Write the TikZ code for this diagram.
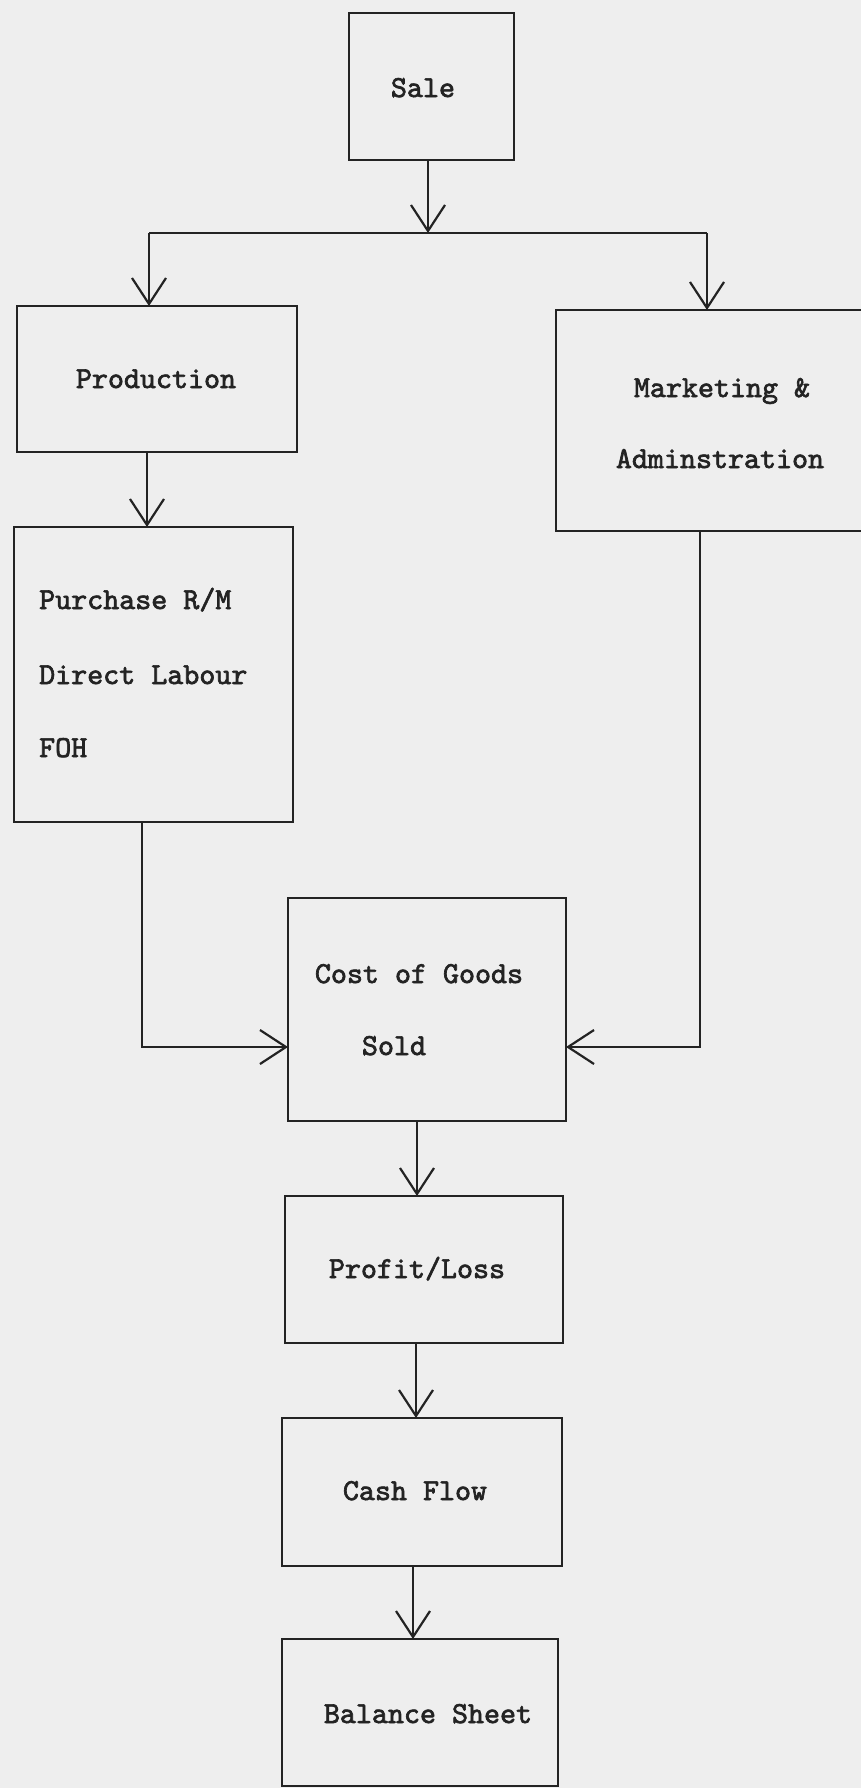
\documentclass[tikz,border=0pt]{standalone}
\usepackage{fontspec}
\newfontfamily\typew{lmmono10-regular.otf}[FakeBold=2.2]
\usetikzlibrary{arrows.meta}
\definecolor{paper}{RGB}{238,238,238}
\definecolor{ink}{RGB}{35,35,35}
\begin{document}
\begin{tikzpicture}[x=1pt,y=-1pt,
  box/.style={draw=ink, line width=2.6pt, rectangle, inner sep=0pt, outer sep=0pt},
  lbl/.style={text=ink, font=\fontsize{30.5}{34}\selectfont\typew, anchor=base, inner sep=0pt},
  lbll/.style={lbl, anchor=base west},
  ln/.style={draw=ink, line width=2.6pt},
  arr/.style={ln, -{Straight Barb[length=26pt,width=34pt,line width=2.2pt]}}]
\fill[paper] (0,0) rectangle (861,1788);
\useasboundingbox (0,0) rectangle (861,1788);
% boxes
\node[box, minimum width=165pt, minimum height=147pt] (sale) at (431.5,86.5) {};
\node[box, minimum width=280pt, minimum height=146pt] (prod) at (157,379) {};
\node[box, minimum width=324pt, minimum height=221pt] (mkt) at (718,420.5) {};
\node[box, minimum width=279pt, minimum height=295pt] (purch) at (153.5,674.5) {};
\node[box, minimum width=278pt, minimum height=223pt] (cogs) at (427,1009.5) {};
\node[box, minimum width=278pt, minimum height=147pt] (pl) at (424,1269.5) {};
\node[box, minimum width=280pt, minimum height=148pt] (cash) at (422,1492) {};
\node[box, minimum width=276pt, minimum height=147pt] (bal) at (420,1712.5) {};
% labels
\node[lbl] (tsale) at (423,97) {Sale};
\node[lbl] (tprod) at (156,388) {Production};
\node[lbl] (tmkt1) at (722,397) {Marketing \&};
\node[lbl] (tmkt2) at (720,468) {Adminstration};
\node[lbll] (tp1) at (39,609) {Purchase R/M};
\node[lbll] (tp2) at (39,684) {Direct Labour};
\node[lbll] (tp3) at (39,757) {FOH};
\node[lbl] (tc1) at (419,983) {Cost of Goods};
\node[lbl] (tc2) at (394,1055) {Sold};
\node[lbl] (tpl) at (417,1278) {Profit/Loss};
\node[lbl] (tcash) at (415,1500) {Cash Flow};
\node[lbl] (tbal) at (428,1723) {Balance Sheet};
% connector helpers
\coordinate (J) at (428,233);
\coordinate (L) at (149,233);
\coordinate (R) at (707,233);
\coordinate (xp) at (147,0);
\coordinate (xpu) at (142,1047);
\coordinate (xm) at (700,1047);
\coordinate (xc) at (417,0);
\coordinate (xl) at (416,0);
\coordinate (xs) at (413,0);
% connectors
\draw[arr] (J |- sale.south) -- (J);
\draw[ln] (L) -- (R);
\draw[arr] (L) -- (L |- prod.north);
\draw[arr] (R) -- (R |- mkt.north);
\draw[arr] (xp |- prod.south) -- (xp |- purch.north);
\draw[arr] (xpu |- purch.south) |- (cogs.west |- xpu);
\draw[arr] (xm |- mkt.south) |- (cogs.east |- xm);
\draw[arr] (xc |- cogs.south) -- (xc |- pl.north);
\draw[arr] (xl |- pl.south) -- (xl |- cash.north);
\draw[arr] (xs |- cash.south) -- (xs |- bal.north);
\end{tikzpicture}
\end{document}
